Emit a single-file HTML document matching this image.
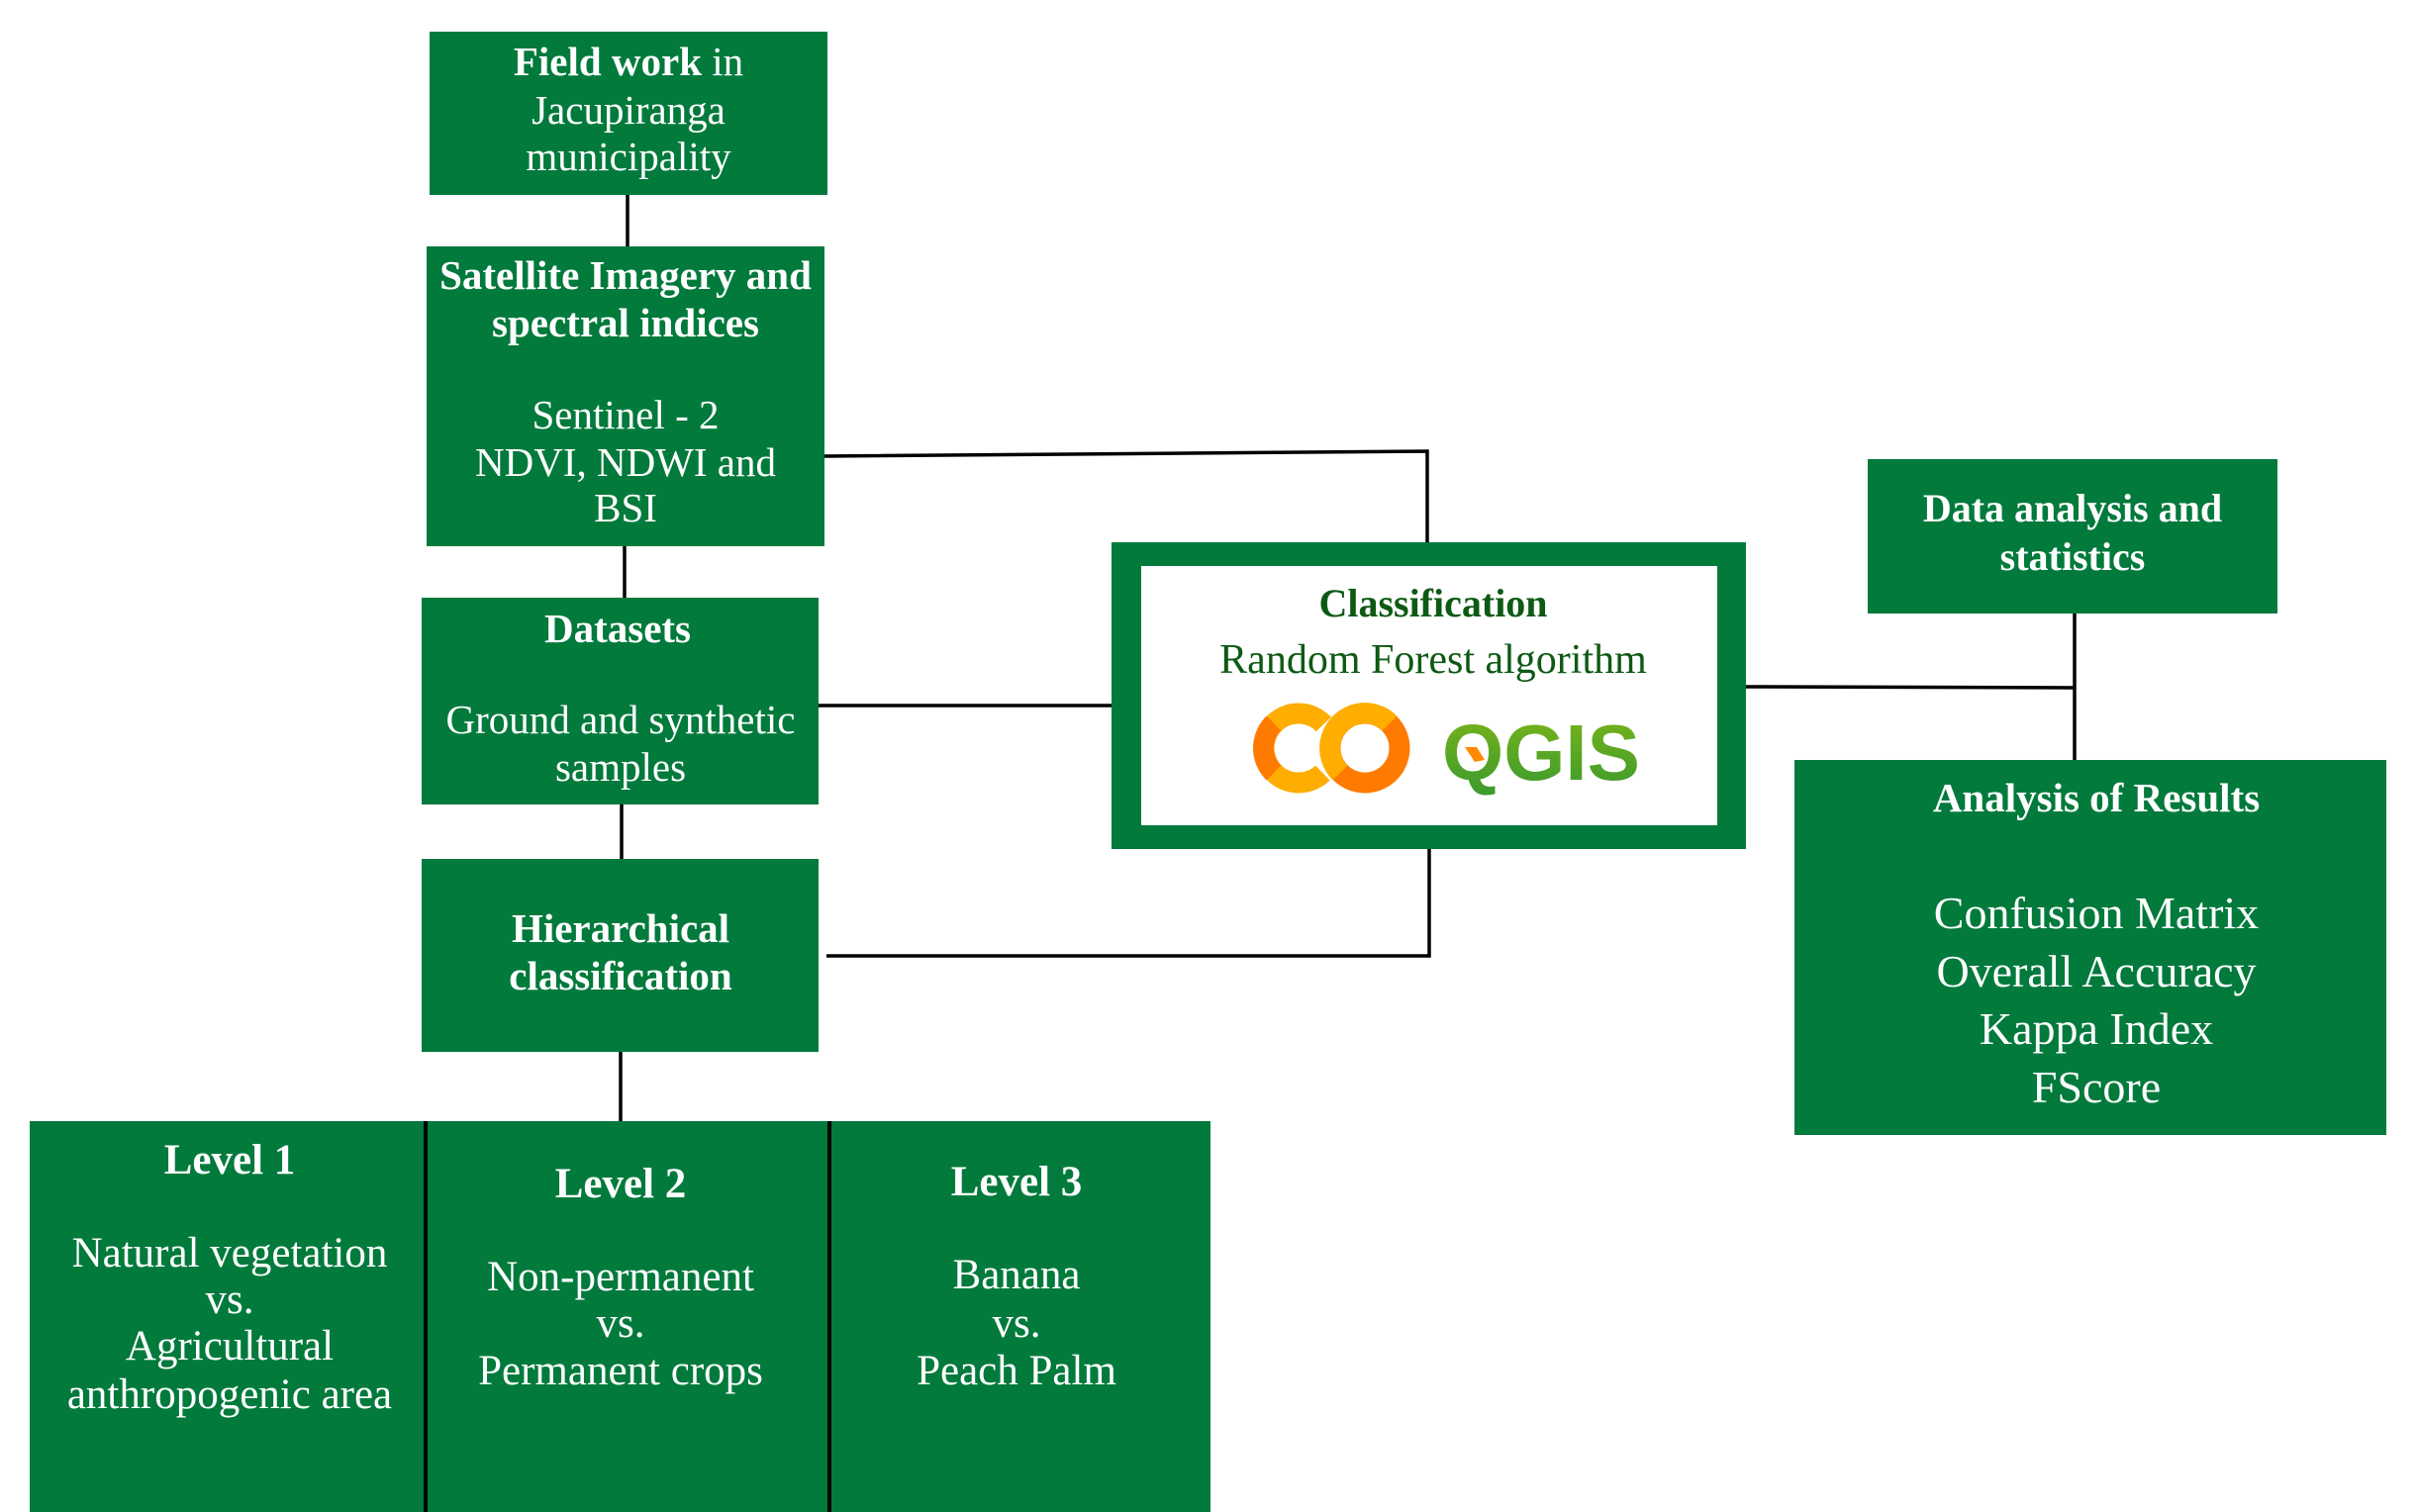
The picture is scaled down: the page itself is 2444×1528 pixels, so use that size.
<!DOCTYPE html>
<html><head><meta charset="utf-8"><style>
html,body{margin:0;padding:0;background:#fff;}
svg{display:block;}
text{font-family:"Liberation Serif","Times New Roman",serif;}
</style></head><body>
<svg width="2444" height="1528" viewBox="0 0 2444 1528" xmlns="http://www.w3.org/2000/svg">
<defs>
<linearGradient id="qg" x1="0" y1="0" x2="0" y2="1"><stop offset="0" stop-color="#7cb518"/><stop offset="1" stop-color="#3a9a2e"/></linearGradient>
</defs>
<g stroke="#000" stroke-width="3.5" fill="none">
<line x1="634" y1="197" x2="634" y2="249"/>
<line x1="631" y1="552" x2="631" y2="604"/>
<line x1="628" y1="813" x2="628" y2="868"/>
<line x1="627" y1="1063" x2="627" y2="1133"/>
<polyline points="833,461 1442,456 1442,549"/>
<line x1="827" y1="713" x2="1123" y2="713"/>
<polyline points="835,966 1444,966 1444,858"/>
<line x1="1764" y1="694" x2="2096" y2="695"/>
<line x1="2096" y1="620" x2="2096" y2="768"/>
</g>
<g fill="#017a3c">
<rect x="434" y="32" width="402" height="165"/>
<rect x="431" y="249" width="402" height="303"/>
<rect x="426" y="604" width="401" height="209"/>
<rect x="426" y="868" width="401" height="195"/>
<rect x="1887" y="464" width="414" height="156"/>
<rect x="1813" y="768" width="598" height="379"/>
<rect x="30" y="1133" width="1193" height="395"/>
<rect x="1123" y="548" width="641" height="310"/>
</g>
<rect x="1153" y="572" width="582" height="262" fill="#fff"/>
<g stroke="#000" stroke-width="4">
<line x1="430" y1="1133" x2="430" y2="1528"/>
<line x1="838" y1="1133" x2="838" y2="1528"/>
</g>
<g fill="#fff" text-anchor="middle" font-size="41">
<text x="635" y="76" font-weight="bold">Field work <tspan font-weight="normal">in</tspan></text>
<text x="635" y="125">Jacupiranga</text>
<text x="635" y="172">municipality</text>
<text x="632" y="292" font-weight="bold">Satellite Imagery and</text>
<text x="632" y="340" font-weight="bold">spectral indices</text>
<text x="632" y="433">Sentinel - 2</text>
<text x="632" y="481">NDVI, NDWI and</text>
<text x="632" y="527">BSI</text>
<text x="624" y="649" font-weight="bold">Datasets</text>
<text x="627" y="741">Ground and synthetic</text>
<text x="627" y="789">samples</text>
<text x="627" y="952" font-weight="bold">Hierarchical</text>
<text x="627" y="1000" font-weight="bold">classification</text>
<text x="2094" y="527" font-weight="bold" font-size="40">Data analysis and</text>
<text x="2094" y="576" font-weight="bold" font-size="40">statistics</text>
<text x="2118" y="820" font-weight="bold">Analysis of Results</text>
<g font-size="46">
<text x="2118" y="938">Confusion Matrix</text>
<text x="2118" y="997">Overall Accuracy</text>
<text x="2118" y="1055">Kappa Index</text>
<text x="2118" y="1114">FScore</text>
</g>
<g font-size="43">
<text x="232" y="1186" font-weight="bold">Level 1</text>
<text x="232" y="1280">Natural vegetation</text>
<text x="232" y="1327">vs.</text>
<text x="232" y="1374">Agricultural</text>
<text x="232" y="1423">anthropogenic area</text>
<text x="627" y="1210" font-weight="bold">Level 2</text>
<text x="627" y="1304">Non-permanent</text>
<text x="627" y="1351">vs.</text>
<text x="627" y="1399">Permanent crops</text>
<text x="1027" y="1208" font-weight="bold">Level 3</text>
<text x="1027" y="1302">Banana</text>
<text x="1027" y="1351">vs.</text>
<text x="1027" y="1399">Peach Palm</text>
</g>
</g>
<text x="1448" y="623" text-anchor="middle" font-size="40" font-weight="bold" fill="#0d5a14">Classification</text>
<text x="1448" y="680" text-anchor="middle" font-size="42" fill="#0d5a14">Random Forest algorithm</text>
<g fill="none" stroke-width="21">
<circle cx="1312" cy="756" r="35" stroke="#ffad00" stroke-dasharray="165 55" stroke-dashoffset="-28"/>
<path d="M1287,731 A35,35 0 0 0 1287,781" stroke="#ff7a00"/>
<circle cx="1379" cy="756" r="35" stroke="#ff7a00"/>
<path d="M1354,781 A35,35 0 0 1 1404,731" stroke="#ffad00"/>
</g>
<text x="1557" y="788" text-anchor="middle" font-size="80" font-weight="bold" fill="url(#qg)" style="font-family:'Liberation Sans',sans-serif">QGIS</text>
<polygon points="1480,755 1492,755 1500,768 1490,770" fill="#ff8a00"/>
</svg>
</body></html>
